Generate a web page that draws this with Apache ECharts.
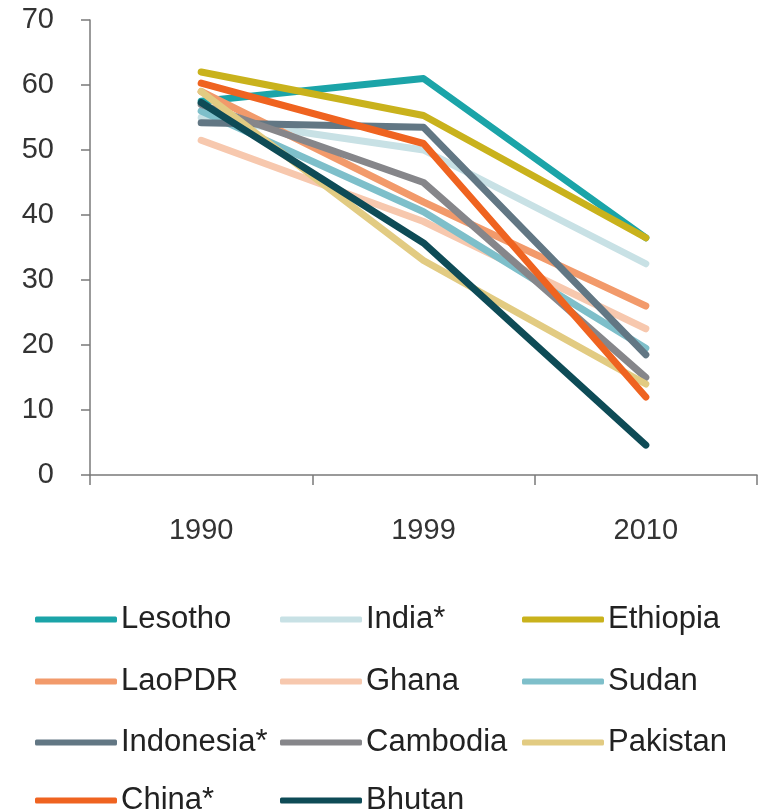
<!DOCTYPE html>
<html><head><meta charset="utf-8">
<script src="https://cdn.jsdelivr.net/npm/echarts@6/dist/echarts.min.js"></script>
<style>html,body{margin:0;padding:0;background:#fff;}#c{width:761px;height:809px;}</style>
</head><body><div id="c"></div>
<script>
var years = ['1990', '1999', '2010'];
var lesotho   = [57.5, 61, 36.5];
var india     = [55, 50, 32.5];
var ethiopia  = [62, 55.3, 36.5];
var laopdr    = [59, 42, 26];
var ghana     = [51.5, 39, 22.5];
var sudan     = [56, 40.5, 19.5];
var indonesia = [54.2, 53.5, 18.5];
var cambodia  = [57, 45, 15];
var pakistan  = [59, 33, 14];
var china     = [60.3, 51, 12];
var bhutan    = [57.3, 35.7, 4.6];
var yTicks = [0, 10, 20, 30, 40, 50, 60, 70];

var names = ['Lesotho','India*','Ethiopia','LaoPDR','Ghana','Sudan','Indonesia*','Cambodia','Pakistan','China*','Bhutan'];
var values = [lesotho, india, ethiopia, laopdr, ghana, sudan, indonesia, cambodia, pakistan, china, bhutan];
var colors = ['#1ba4a8','#c8e1e5','#c9b21c','#f29a6b','#f7c8ae','#7ebfca','#627784','#86868a','#e2cb82','#ef6320','#0e4b56'];

var series = names.map(function(n, i){
  return {
    name: n, type: 'line', data: values[i], showSymbol: false, symbol: 'none',
    lineStyle: { width: 7, color: colors[i], cap: 'round', join: 'round' },
    itemStyle: { color: colors[i] },
    z: 2 + i
  };
});

var colLeft = [35, 280, 522];
var rowMid = [620, 682, 743, 801];
var legends = names.map(function(n, i){
  var col = i % 3, row = Math.floor(i / 3);
  return {
    data: [n], orient: 'horizontal', left: colLeft[col], top: rowMid[row] - 16,
    itemWidth: 82, itemHeight: 6, icon: 'roundRect', padding: 0,
    textStyle: { fontFamily: 'Liberation Sans', fontSize: 31, color: '#222', padding: [0, 0, 0, -1] }
  };
});

var chart = echarts.init(document.getElementById('c'));
chart.setOption({
  animation: false,
  backgroundColor: '#fff',
  grid: { left: 90, right: 4, top: 20, bottom: 334 },
  xAxis: {
    type: 'category', data: years, boundaryGap: true,
    axisLine: { lineStyle: { color: '#7a7a7a', width: 1.5 } },
    axisTick: { show: true, length: 10, inside: false, lineStyle: { color: '#7a7a7a', width: 1.5 } },
    axisLabel: { margin: 41, fontFamily: 'Liberation Sans', fontSize: 29, color: '#333' },
    splitLine: { show: false }
  },
  yAxis: {
    type: 'value', min: 0, max: 70, interval: 10,
    axisLine: { show: true, lineStyle: { color: '#7a7a7a', width: 1.5 } },
    axisTick: { show: true, length: 9, lineStyle: { color: '#7a7a7a', width: 1.5 } },
    axisLabel: { margin: 36, fontFamily: 'Liberation Sans', fontSize: 29, color: '#333',
      formatter: function(v){ return yTicks.indexOf(v) >= 0 ? String(v) : ''; } },
    splitLine: { show: false }
  },
  legend: legends,
  series: series
});
</script></body></html>
